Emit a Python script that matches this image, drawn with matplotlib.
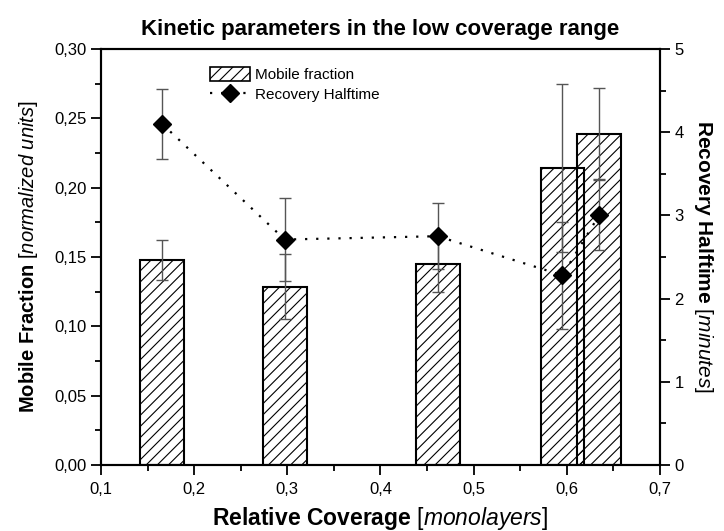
import matplotlib
matplotlib.use("Agg")
import matplotlib.pyplot as plt
from matplotlib.ticker import MultipleLocator, FuncFormatter
from matplotlib.patches import Patch
from matplotlib.lines import Line2D

# Measurements
coverage = [0.1656, 0.2972, 0.4613, 0.5953, 0.6345]
mobile_fraction = [0.148, 0.1285, 0.145, 0.214, 0.239]
mobile_fraction_err = [0.0145, 0.0235, 0.020, 0.0605, 0.033]
recovery_halftime = [4.10, 2.71, 2.75, 2.28, 3.00]
recovery_halftime_err = [0.42, 0.50, 0.40, 0.64, 0.42]

title = "Kinetic parameters in the low coverage range"
legend_labels = ["Mobile fraction", "Recovery Halftime"]

plt.rcParams["font.family"] = ["Liberation Sans", "DejaVu Sans"]
plt.rcParams["mathtext.fontset"] = "custom"
plt.rcParams["mathtext.rm"] = "Liberation Sans"
plt.rcParams["mathtext.bf"] = "Liberation Sans:bold"
plt.rcParams["mathtext.it"] = "Liberation Sans:italic"
plt.rcParams["hatch.linewidth"] = 0.8
plt.rcParams["hatch.color"] = "#333333"

fig = plt.figure(figsize=(7.24, 5.31), dpi=100)
ax = fig.add_axes([0.1395, 0.1243, 0.9116 - 0.1395, 0.9077 - 0.1243])

bar_width = 0.047
ax.bar(coverage, mobile_fraction, width=bar_width, facecolor="none",
       edgecolor="black", linewidth=1.5, hatch="///", zorder=2)
ax.errorbar(coverage, mobile_fraction, yerr=mobile_fraction_err, fmt="none",
            ecolor="#555555", elinewidth=1.0, capsize=4.5, capthick=1.0, zorder=3)

ax.set_xlim(0.1, 0.7)
ax.set_ylim(0.0, 0.30)
ax.xaxis.set_major_locator(MultipleLocator(0.1))
ax.xaxis.set_minor_locator(MultipleLocator(0.05))
ax.yaxis.set_major_locator(MultipleLocator(0.05))
ax.yaxis.set_minor_locator(MultipleLocator(0.025))
ax.xaxis.set_major_formatter(FuncFormatter(lambda v, p: f"{v:.1f}".replace(".", ",")))
ax.yaxis.set_major_formatter(FuncFormatter(lambda v, p: f"{v:.2f}".replace(".", ",")))

ax2 = ax.twinx()
ax2.errorbar(coverage, recovery_halftime, yerr=recovery_halftime_err, fmt="none",
             ecolor="#555555", elinewidth=1.0, capsize=4.5, capthick=1.0, zorder=3)
ax2.plot(coverage, recovery_halftime, color="black", linestyle=(0, (1, 4)),
         linewidth=1.6, marker="D", markersize=9, markerfacecolor="black",
         markeredgecolor="black", zorder=4)
ax2.set_ylim(0, 5)
ax2.yaxis.set_major_locator(MultipleLocator(1))
ax2.yaxis.set_minor_locator(MultipleLocator(0.5))

for a in (ax, ax2):
    for s in a.spines.values():
        s.set_linewidth(1.5)
    a.tick_params(which="major", direction="out", length=7, width=1.3,
                  labelsize=12, top=False)
    a.tick_params(which="minor", direction="out", length=4, width=1.3, top=False)
ax.tick_params(axis="y", which="both", right=False)
ax.tick_params(axis="x", pad=5)

ax.set_title(title, fontsize=16, fontweight="bold", pad=10)
ax.set_xlabel(r"$\mathbf{Relative\ Coverage}\ \mathit{[monolayers]}$",
              fontsize=16.5, labelpad=6)
ax.set_ylabel(r"$\mathbf{Mobile\ Fraction}\ \mathit{[normalized\ units]}$",
              fontsize=14.5, labelpad=10)
ax2.set_ylabel(r"$\mathbf{Recovery\ Halftime}\ \mathit{[minutes]}$",
               fontsize=15, rotation=270, labelpad=22)

handles = [
    Patch(facecolor="none", edgecolor="black", linewidth=1.2, hatch="///"),
    Line2D([], [], color="black", linestyle=(0, (1, 4)), linewidth=1.6,
           marker="D", markersize=9, markerfacecolor="black"),
]
ax2.legend(handles, legend_labels, loc="upper left", bbox_to_anchor=(0.19, 0.965),
           frameon=False, fontsize=11, handlelength=2.6, handleheight=1.1,
           handletextpad=0.3, labelspacing=0.3, borderaxespad=0, borderpad=0.2)

fig.savefig("out.png", dpi=100)
